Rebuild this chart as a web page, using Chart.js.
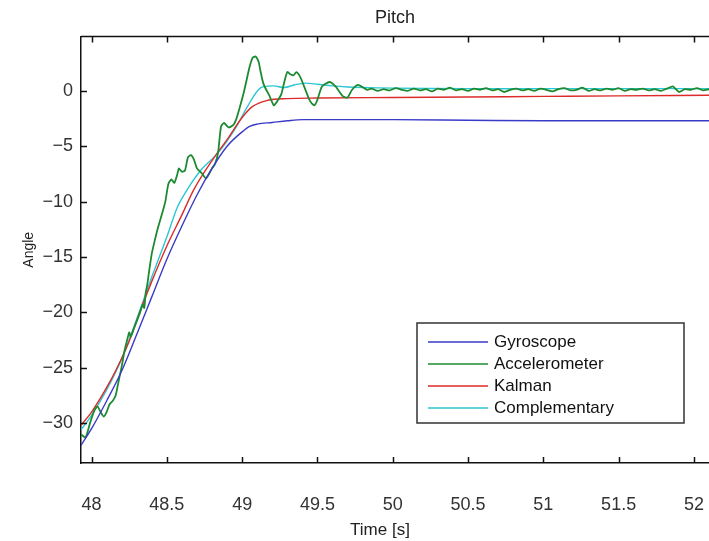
<!DOCTYPE html>
<html>
<head>
<meta charset="utf-8">
<title>Pitch</title>
<script src="https://cdn.jsdelivr.net/npm/chart.js@4.4.1/dist/chart.umd.min.js"></script>
<style>
  html, body { margin: 0; padding: 0; background: #fff; }
  #wrap { width: 709px; height: 541px; }
</style>
</head>
<body>
<div id="wrap"><canvas id="pitchChart" width="709" height="541"></canvas></div>
<script>
// eixos
const xTicks = [48, 48.5, 49, 49.5, 50, 50.5, 51, 51.5, 52];
const yTicks = [-30, -25, -20, -15, -10, -5, 0];

// Gyroscope
const gyroTime  = [47.93, 48.0, 48.1, 48.2, 48.3, 48.4, 48.5, 48.6, 48.7, 48.8, 48.9, 49.0, 49.05, 49.1, 49.2, 49.3, 49.4, 49.6, 50.0, 50.5, 51.0, 51.5, 52.1];
const gyroAngle = [-32.0, -30.5, -28.0, -25.3, -22.0, -18.6, -15.2, -12.2, -9.4, -7.0, -5.0, -3.7, -3.2, -3.0, -2.85, -2.7, -2.6, -2.6, -2.6, -2.65, -2.7, -2.7, -2.7];

// Kalman
const kalmanTime  = [47.93, 48.0, 48.1, 48.17, 48.25, 48.32, 48.4, 48.5, 48.6, 48.68, 48.81, 48.9, 49.0, 49.07, 49.17, 49.3, 49.5, 50.0, 50.5, 51.0, 51.5, 52.1];
const kalmanAngle = [-30.2, -29.0, -26.8, -25.0, -22.6, -20.0, -17.2, -14.0, -11.2, -8.9, -6.1, -4.4, -2.4, -1.4, -0.85, -0.7, -0.65, -0.6, -0.55, -0.5, -0.45, -0.4];

// Complementary
const compTime  = [47.93, 48.0, 48.1, 48.2, 48.3, 48.4, 48.5, 48.57, 48.65, 48.73, 48.84, 48.95, 49.04, 49.12, 49.21, 49.28, 49.35, 49.42, 49.5, 49.6, 49.7, 49.8, 50.0, 50.5, 51.0, 51.5, 52.1];
const compAngle = [-30.6, -29.3, -27.0, -24.2, -20.6, -16.8, -13.2, -10.5, -8.6, -7.1, -5.6, -3.5, -1.3, 0.25, 0.45, 0.3, 0.55, 0.7, 0.6, 0.45, 0.35, 0.3, 0.25, 0.2, 0.2, 0.2, 0.2];

// Accelerometer
const accelTime = [
  47.93, 47.96, 47.99, 48.02, 48.04, 48.06, 48.08, 48.10, 48.12, 48.14, 48.16, 48.18, 48.20, 48.22, 48.24, 48.25,
  48.26, 48.28, 48.30, 48.32, 48.34, 48.35, 48.36, 48.37, 48.38, 48.40, 48.42, 48.44, 48.47, 48.49, 48.51, 48.53,
  48.55, 48.57, 48.58, 48.60, 48.62, 48.64, 48.66, 48.68, 48.70, 48.73, 48.76, 48.78, 48.80, 48.82, 48.84, 48.86,
  48.88, 48.91, 48.94, 48.96, 48.98, 49.01, 49.03, 49.05, 49.07, 49.09, 49.11, 49.12, 49.14, 49.16, 49.18, 49.21,
  49.23, 49.26, 49.28, 49.30, 49.32, 49.34, 49.36, 49.38, 49.40, 49.42, 49.44, 49.46, 49.48, 49.50, 49.53, 49.58,
  49.62, 49.67, 49.70, 49.73, 49.77, 49.83,
  49.86, 49.90, 49.94, 49.98, 50.02, 50.06, 50.10, 50.14, 50.18, 50.22, 50.26, 50.30, 50.34, 50.38, 50.42, 50.46,
  50.50, 50.54, 50.58, 50.62, 50.66, 50.70, 50.74, 50.78, 50.82, 50.86, 50.90, 50.94, 50.98, 51.02, 51.06, 51.10,
  51.14, 51.18, 51.22, 51.26, 51.30, 51.34, 51.38, 51.42, 51.46, 51.50, 51.54, 51.58, 51.62, 51.66, 51.70, 51.74,
  51.78, 51.82, 51.86, 51.90, 51.94, 51.98, 52.02, 52.06, 52.10
];
const accelAngle = [
  -31.0, -31.3, -30.0, -28.8, -28.5, -29.0, -29.4, -29.0, -28.3, -28.0, -27.5, -26.2, -24.9, -23.4, -22.3, -21.8,
  -22.2, -21.5, -20.8, -20.1, -19.3, -19.6, -18.2, -17.5, -16.5, -14.7, -13.5, -12.4, -11.0, -10.0, -8.4, -8.0,
  -8.3, -7.5, -7.0, -7.3, -7.2, -6.0, -5.8, -6.2, -7.0, -7.4, -7.9, -7.5, -7.0, -6.6, -5.6, -3.2,
  -2.9, -3.3, -3.1, -2.6, -1.7, -0.2, 1.0, 2.2, 3.0, 3.1, 2.6, 1.9, 0.7, 0.1, -0.4, -1.3,
  -1.0, -0.3, 0.8, 1.7, 1.5, 1.4, 1.7, 1.4, 0.8, 0.1, -0.6, -1.1, -1.3, -0.8, 0.4, 0.8,
  0.4, -0.5, -0.6, 0.1, 0.55, 0.1,
  0.2, 0.0, 0.15, 0.05, 0.25, 0.1, 0.0, 0.2, 0.05, 0.15, -0.05, 0.2, 0.1, 0.3, 0.05, 0.15,
  0.0, 0.2, 0.1, 0.25, 0.05, 0.15, -0.1, 0.1, 0.2, 0.05, 0.15, 0.0, 0.2, 0.1, -0.05, 0.15,
  0.25, 0.05, 0.1, 0.3, 0.0, 0.15, 0.05, 0.2, 0.1, 0.25, 0.0, 0.15, 0.1, 0.2, 0.05, 0.15,
  0.0, 0.2, 0.4, -0.1, 0.15, 0.1, 0.25, 0.05, 0.15
];

const FONT = '"Liberation Sans", Arial, Helvetica, sans-serif';

function toPoints(times, values) {
    return times.map((t, i) => ({ x: t, y: values[i] }));
}

function minusLabel(v) {
    return v < 0 ? '\u2212' + Math.abs(v) : String(v);
}

// ticks para dentro (estilo MATLAB) + linha superior
const inwardTicks = {
    id: 'inwardTicks',
    afterDraw(chart) {
        const ctx = chart.ctx;
        const area = chart.chartArea;
        const xs = chart.scales.x;
        const ys = chart.scales.y;
        const len = 6;
        ctx.save();
        ctx.strokeStyle = '#111';
        ctx.lineWidth = 1.5;
        ctx.beginPath();
        ctx.moveTo(area.left, area.top);
        ctx.lineTo(area.right, area.top);
        xs.ticks.forEach(t => {
            const px = Math.round(xs.getPixelForValue(t.value)) + 0.5;
            ctx.moveTo(px, area.bottom);
            ctx.lineTo(px, area.bottom - len);
            ctx.moveTo(px, area.top);
            ctx.lineTo(px, area.top + len);
        });
        ys.ticks.forEach(t => {
            const py = Math.round(ys.getPixelForValue(t.value)) + 0.5;
            ctx.moveTo(area.left, py);
            ctx.lineTo(area.left + len, py);
        });
        ctx.stroke();

        // rótulo do eixo x (um pouco à esquerda do centro, como no original)
        ctx.font = '17px ' + FONT;
        ctx.fillStyle = '#222';
        ctx.textAlign = 'center';
        ctx.textBaseline = 'middle';
        ctx.fillText('Time [s]', 380, 530);
        ctx.restore();
    }
};

// legenda dentro do gráfico
const boxLegend = {
    id: 'boxLegend',
    afterDraw(chart) {
        const ctx = chart.ctx;
        const left = 417, top = 323, width = 267, height = 100;
        ctx.save();
        ctx.fillStyle = '#fff';
        ctx.fillRect(left, top, width, height);
        ctx.strokeStyle = '#333';
        ctx.lineWidth = 1.5;
        ctx.strokeRect(left, top, width, height);
        ctx.font = '17px ' + FONT;
        ctx.textBaseline = 'middle';
        ctx.fillStyle = '#111';
        chart.data.datasets.forEach((ds, i) => {
            const y = top + 19 + i * 22;
            ctx.strokeStyle = ds.borderColor;
            ctx.lineWidth = 1.5;
            ctx.beginPath();
            ctx.moveTo(left + 11, y);
            ctx.lineTo(left + 71, y);
            ctx.stroke();
            ctx.fillText(ds.label, left + 77, y);
        });
        ctx.restore();
    }
};

document.addEventListener('DOMContentLoaded', function() {
    if (typeof Chart === 'undefined') {
        console.error('Chart.js não carregou!');
        return;
    }

    new Chart(document.getElementById('pitchChart'), {
        type: 'line',
        data: {
            datasets: [
                {
                    label: 'Gyroscope',
                    data: toPoints(gyroTime, gyroAngle),
                    borderColor: '#3a3ac8',
                    borderWidth: 1.4,
                    cubicInterpolationMode: 'monotone'
                },
                {
                    label: 'Accelerometer',
                    data: toPoints(accelTime, accelAngle),
                    borderColor: '#1c8a30',
                    borderWidth: 1.8,
                    tension: 0.2
                },
                {
                    label: 'Kalman',
                    data: toPoints(kalmanTime, kalmanAngle),
                    borderColor: '#dd2a2a',
                    borderWidth: 1.4,
                    cubicInterpolationMode: 'monotone'
                },
                {
                    label: 'Complementary',
                    data: toPoints(compTime, compAngle),
                    borderColor: '#2cc6d2',
                    borderWidth: 1.4,
                    tension: 0.3
                }
            ]
        },
        options: {
            responsive: false,
            animation: false,
            devicePixelRatio: 1,
            elements: { point: { radius: 0 } },
            layout: { padding: 0 },
            plugins: {
                legend: { display: false },
                tooltip: { enabled: false },
                title: {
                    display: true,
                    fullSize: false,
                    text: 'Pitch',
                    color: '#222',
                    font: { family: FONT, size: 18, weight: 'normal' },
                    padding: { top: 7, bottom: 8 }
                }
            },
            scales: {
                x: {
                    type: 'linear',
                    min: 47.93,
                    max: 52.1,
                    afterBuildTicks: scale => { scale.ticks = xTicks.map(v => ({ value: v })); },
                    afterFit: scale => {
                        scale.height = 78;
                        scale.paddingLeft = 0;
                        scale.paddingRight = 0;
                    },
                    grid: { display: false, drawTicks: false },
                    border: { display: true, color: '#111', width: 1.5 },
                    ticks: {
                        color: '#333',
                        padding: 31,
                        maxRotation: 0,
                        font: { family: FONT, size: 18 },
                        callback: v => String(v)
                    },
                    title: { display: false }
                },
                y: {
                    min: -33.6,
                    max: 4.9,
                    afterBuildTicks: scale => { scale.ticks = yTicks.map(v => ({ value: v })); },
                    afterFit: scale => { scale.width = 81; },
                    grid: { display: false, drawTicks: false },
                    border: { display: true, color: '#111', width: 1.5 },
                    ticks: {
                        color: '#333',
                        padding: 8,
                        font: { family: FONT, size: 18 },
                        callback: minusLabel
                    },
                    title: {
                        display: true,
                        text: 'Angle',
                        color: '#222',
                        font: { family: FONT, size: 14 },
                        padding: { top: 21, bottom: 0 }
                    }
                }
            }
        },
        plugins: [inwardTicks, boxLegend]
    });
});
</script>
</body>
</html>
